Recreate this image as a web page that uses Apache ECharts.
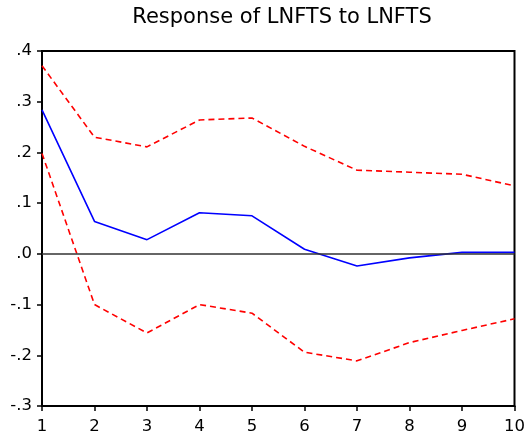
<!DOCTYPE html>
<html>
<head>
<meta charset="utf-8">
<script src="https://cdn.jsdelivr.net/npm/echarts@6/dist/echarts.min.js"></script>
<style>
  html, body { margin: 0; padding: 0; background: #fff; }
  #chart { width: 528px; height: 445px; }
</style>
</head>
<body>
<div id="chart"></div>
<script>
// Impulse response of LNFTS to a LNFTS shock, with +/- 2 S.E. bands
const periods = [1, 2, 3, 4, 5, 6, 7, 8, 9, 10];
const response = [0.284, 0.064, 0.028, 0.081, 0.075, 0.009, -0.024, -0.008, 0.003, 0.003];
const upperBand = [0.371, 0.230, 0.211, 0.264, 0.268, 0.212, 0.165, 0.161, 0.157, 0.134];
const lowerBand = [0.198, -0.100, -0.156, -0.100, -0.117, -0.194, -0.211, -0.175, -0.151, -0.128];
const yTicks = [-0.3, -0.2, -0.1, 0.0, 0.1, 0.2, 0.3, 0.4];

const pairs = (ys) => periods.map((p, i) => [p, ys[i]]);
const fmtY = (v) => {
  const s = v.toFixed(1);
  return s.replace(/^(-?)0\./, '$1.');
};

const chart = echarts.init(document.getElementById('chart'));
const font = 'DejaVu Sans, Liberation Sans, sans-serif';

chart.setOption({
  backgroundColor: '#fff',
  animation: false,
  title: {
    text: 'Response of LNFTS to LNFTS',
    left: 277,
    textAlign: 'center',
    top: 2,
    textStyle: { fontFamily: font, fontSize: 21, fontWeight: 'normal', color: '#000' }
  },
  grid: { left: 42, right: 13, top: 51, bottom: 39, show: true, borderColor: '#000', borderWidth: 2, backgroundColor: 'transparent' },
  xAxis: {
    type: 'value',
    min: 1, max: 10, interval: 1,
    axisLine: { onZero: false, lineStyle: { color: '#000', width: 2 } },
    axisTick: { show: true, inside: false, length: 5, lineStyle: { color: '#000', width: 1.5 } },
    axisLabel: { fontFamily: font, fontSize: 16.5, color: '#000', margin: 12 },
    splitLine: { show: false }
  },
  yAxis: {
    type: 'value',
    min: -0.3, max: 0.4, interval: 0.1,
    axisLine: { show: true, onZero: false, lineStyle: { color: '#000', width: 2 } },
    axisTick: { show: true, inside: false, length: 5, lineStyle: { color: '#000', width: 1.5 } },
    axisLabel: { fontFamily: font, fontSize: 16.5, color: '#000', margin: 10, formatter: fmtY },
    splitLine: { show: false }
  },
  series: [
    {
      type: 'line', data: pairs(response), symbol: 'none',
      lineStyle: { color: '#0000ff', width: 1.6 },
      markLine: {
        silent: true, symbol: 'none', label: { show: false },
        lineStyle: { color: '#333', width: 1.5, type: 'solid' },
        data: [{ yAxis: 0 }]
      },
      z: 3
    },
    {
      type: 'line', data: pairs(upperBand), symbol: 'none',
      lineStyle: { color: '#ff0000', width: 1.6, type: [6, 4] }
    },
    {
      type: 'line', data: pairs(lowerBand), symbol: 'none',
      lineStyle: { color: '#ff0000', width: 1.6, type: [6, 4] }
    }
  ]
});
</script>
</body>
</html>
